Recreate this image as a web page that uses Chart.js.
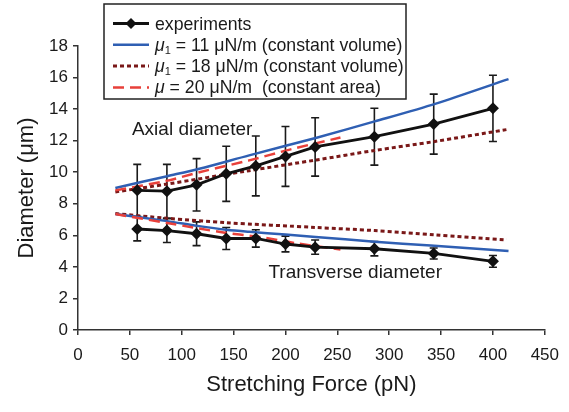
<!DOCTYPE html>
<html><head><meta charset="utf-8">
<script src="https://cdn.jsdelivr.net/npm/chart.js@4.4.0/dist/chart.umd.min.js"></script>
<style>html,body{margin:0;padding:0;background:#fff;}canvas{display:block;}</style>
</head><body>
<canvas id="c" width="569" height="412"></canvas>
<script>
// ---- data ----
const forceExp   = [57.1, 85.7, 114.3, 142.9, 171.4, 200, 228.6, 285.7, 342.9, 400];
const axialExp   = [8.85, 8.8, 9.2, 9.9, 10.4, 11.0, 11.6, 12.25, 13.05, 14.05];
const axialErr   = [1.65, 1.7, 1.66, 1.75, 1.9, 1.9, 1.85, 1.8, 1.9, 2.1];
const transExp   = [6.4, 6.3, 6.1, 5.8, 5.8, 5.45, 5.25, 5.15, 4.85, 4.35];
const transErr   = [0.75, 0.75, 0.75, 0.7, 0.55, 0.5, 0.45, 0.45, 0.35, 0.37];

const blueAxialX  = [36, 86, 117, 165, 230, 286, 345, 415];
const blueAxialY  = [9.0, 9.75, 10.22, 11.07, 12.19, 13.22, 14.35, 15.9];
const blueTransX  = [36, 86, 115, 143, 165, 200, 229, 286, 340, 415];
const blueTransY  = [7.35, 6.9, 6.6, 6.35, 6.22, 6.05, 5.9, 5.6, 5.35, 5.0];

const dotAxialX   = [36, 86, 165, 230, 286, 344, 413];
const dotAxialY   = [8.75, 9.25, 10.1, 10.78, 11.38, 11.95, 12.7];
const dotTransX   = [36, 86, 143, 229, 286, 344, 413];
const dotTransY   = [7.38, 7.08, 6.8, 6.5, 6.3, 6.03, 5.7];

const dashAxialX  = [36, 85, 117, 165, 205, 253];
const dashAxialY  = [8.85, 9.45, 10.0, 10.75, 11.45, 12.2];
const dashTransX  = [36, 86, 143, 175, 210, 253];
const dashTransY  = [7.35, 6.78, 6.15, 5.9, 5.5, 5.1];

const xTicks = [0, 50, 100, 150, 200, 250, 300, 350, 400, 450];
const yTicks = [0, 2, 4, 6, 8, 10, 12, 14, 16, 18];

const xTitle = 'Stretching Force (pN)';
const yTitle = 'Diameter (μm)';
const annotations = [
  {text: 'Axial diameter', x: 52, y: 12.33},
  {text: 'Transverse diameter', x: 183.6, y: 3.3}
];
// legend entries: segments (italic / subscript)
const legendLabels = [
  [{t: 'experiments'}],
  [{t: 'μ', it: true}, {t: '1', sub: true}, {t: ' = 11 μN/m (constant volume)'}],
  [{t: 'μ', it: true}, {t: '1', sub: true}, {t: ' = 18 μN/m (constant volume)'}],
  [{t: 'μ', it: true}, {t: ' = 20 μN/m  (constant area)'}]
];

// ---- styles ----
const FONT = '"Liberation Sans", Arial, sans-serif';
const BLACK = '#111111', BLUE = '#2f5fb3', MAROON = '#7a1818', RED = '#e8403a';

const pts = (xs, ys) => xs.map((x, i) => ({x: x, y: ys[i]}));

const expStyle = {borderColor: BLACK, backgroundColor: BLACK, borderWidth: 2.8,
  pointStyle: 'rectRot', pointRadius: 6, pointBorderWidth: 0, pointBackgroundColor: BLACK, tension: 0};
const blueStyle = {borderColor: BLUE, borderWidth: 2.5, pointRadius: 0, tension: 0.3};
const dotStyle = {borderColor: MAROON, borderWidth: 3, borderDash: [4, 3], pointRadius: 0, tension: 0.3};
const dashStyle = {borderColor: RED, borderWidth: 2.5, borderDash: [11, 6], pointRadius: 0, tension: 0.3};

const datasets = [
  Object.assign({label: 'experiments', data: pts(forceExp, axialExp)}, expStyle),
  Object.assign({label: 'experiments (transverse)', data: pts(forceExp, transExp)}, expStyle),
  Object.assign({label: 'μ = 20 μN/m (constant area)', data: pts(dashAxialX, dashAxialY)}, dashStyle),
  Object.assign({label: 'μ = 20 μN/m (transverse)', data: pts(dashTransX, dashTransY)}, dashStyle),
  Object.assign({label: 'μ1 = 11 μN/m (constant volume)', data: pts(blueAxialX, blueAxialY)}, blueStyle),
  Object.assign({label: 'μ1 = 11 μN/m (transverse)', data: pts(blueTransX, blueTransY)}, blueStyle),
  Object.assign({label: 'μ1 = 18 μN/m (constant volume)', data: pts(dotAxialX, dotAxialY)}, dotStyle),
  Object.assign({label: 'μ1 = 18 μN/m (transverse)', data: pts(dotTransX, dotTransY)}, dotStyle)
];

const errorBarPlugin = {
  id: 'errorBars',
  beforeDatasetsDraw(chart) {
    const ctx = chart.ctx, xs = chart.scales.x, ys = chart.scales.y;
    ctx.save();
    ctx.strokeStyle = '#1a1a1a';
    ctx.lineWidth = 1.6;
    [[axialExp, axialErr], [transExp, transErr]].forEach(([vals, errs]) => {
      forceExp.forEach((f, i) => {
        const px = xs.getPixelForValue(f);
        const top = ys.getPixelForValue(vals[i] + errs[i]);
        const bot = ys.getPixelForValue(vals[i] - errs[i]);
        ctx.beginPath();
        ctx.moveTo(px, top); ctx.lineTo(px, bot);
        ctx.moveTo(px - 4, top); ctx.lineTo(px + 4, top);
        ctx.moveTo(px - 4, bot); ctx.lineTo(px + 4, bot);
        ctx.stroke();
      });
    });
    ctx.restore();
  }
};

const textPlugin = {
  id: 'textAndLegend',
  afterDraw(chart) {
    const ctx = chart.ctx, xs = chart.scales.x, ys = chart.scales.y;
    ctx.save();
    ctx.fillStyle = '#1a1a1a';
    ctx.font = '19px ' + FONT;
    ctx.textBaseline = 'alphabetic';
    ctx.textAlign = 'left';
    annotations.forEach(a => {
      ctx.fillText(a.text, xs.getPixelForValue(a.x), ys.getPixelForValue(a.y));
    });

    // legend box
    const bx = 104, by = 4, bw = 302, bh = 95;
    ctx.fillStyle = '#ffffff';
    ctx.fillRect(bx, by, bw, bh);
    ctx.strokeStyle = '#222';
    ctx.lineWidth = 1.5;
    ctx.strokeRect(bx, by, bw, bh);

    const symStyles = [expStyle, blueStyle, dotStyle, dashStyle];
    legendLabels.forEach((segs, i) => {
      const ly = 23.5 + i * 21.3;
      const st = symStyles[i];
      ctx.save();
      ctx.strokeStyle = st.borderColor;
      ctx.lineWidth = st.borderWidth;
      ctx.setLineDash(st.borderDash || []);
      ctx.beginPath();
      ctx.moveTo(113, ly); ctx.lineTo(149, ly);
      ctx.stroke();
      if (i === 0) {
        ctx.fillStyle = BLACK;
        ctx.beginPath();
        ctx.moveTo(131, ly - 5.5); ctx.lineTo(136.5, ly); ctx.lineTo(131, ly + 5.5); ctx.lineTo(125.5, ly);
        ctx.closePath(); ctx.fill();
      }
      ctx.restore();
      let tx = 155;
      const base = ly + 6;
      segs.forEach(s => {
        ctx.fillStyle = '#1a1a1a';
        if (s.sub) {
          ctx.font = '11px ' + FONT;
          ctx.fillText(s.t, tx, base + 3);
        } else {
          ctx.font = (s.it ? 'italic ' : '') + '17.7px ' + FONT;
          ctx.fillText(s.t, tx, base);
        }
        tx += ctx.measureText(s.t).width;
      });
    });
    ctx.restore();
  }
};

new Chart(document.getElementById('c'), {
  type: 'line',
  data: {datasets: datasets},
  options: {
    responsive: false,
    animation: false,
    devicePixelRatio: 1,
    layout: {padding: {top: 46, right: 23, bottom: 0, left: 0}},
    plugins: {legend: {display: false}, tooltip: {enabled: false}},
    elements: {line: {fill: false}},
    scales: {
      x: {
        type: 'linear', min: 0, max: 450,
        afterFit: s => { s.height = 82; },
        afterBuildTicks: s => { s.ticks = xTicks.map(v => ({value: v})); },
        ticks: {color: '#1a1a1a', font: {family: FONT, size: 17}, padding: 10, maxRotation: 0},
        grid: {display: true, drawOnChartArea: false, drawTicks: true, tickLength: 5, color: '#333', lineWidth: 1.5},
        border: {display: true, color: '#333', width: 1.5},
        title: {display: true, text: xTitle, color: '#1a1a1a', font: {family: FONT, size: 22}, padding: {top: 0, bottom: 14}}
      },
      y: {
        type: 'linear', min: 0, max: 18,
        afterFit: s => { s.width = 78; },
        afterBuildTicks: s => { s.ticks = yTicks.map(v => ({value: v})); },
        ticks: {color: '#1a1a1a', font: {family: FONT, size: 17}, padding: 5},
        grid: {display: true, drawOnChartArea: false, drawTicks: true, tickLength: 5, color: '#333', lineWidth: 1.5},
        border: {display: true, color: '#333', width: 1.5},
        title: {display: true, text: yTitle, color: '#1a1a1a', font: {family: FONT, size: 22}, padding: {top: 14, bottom: 0}}
      }
    }
  },
  plugins: [errorBarPlugin, textPlugin]
});
</script>
</body></html>
